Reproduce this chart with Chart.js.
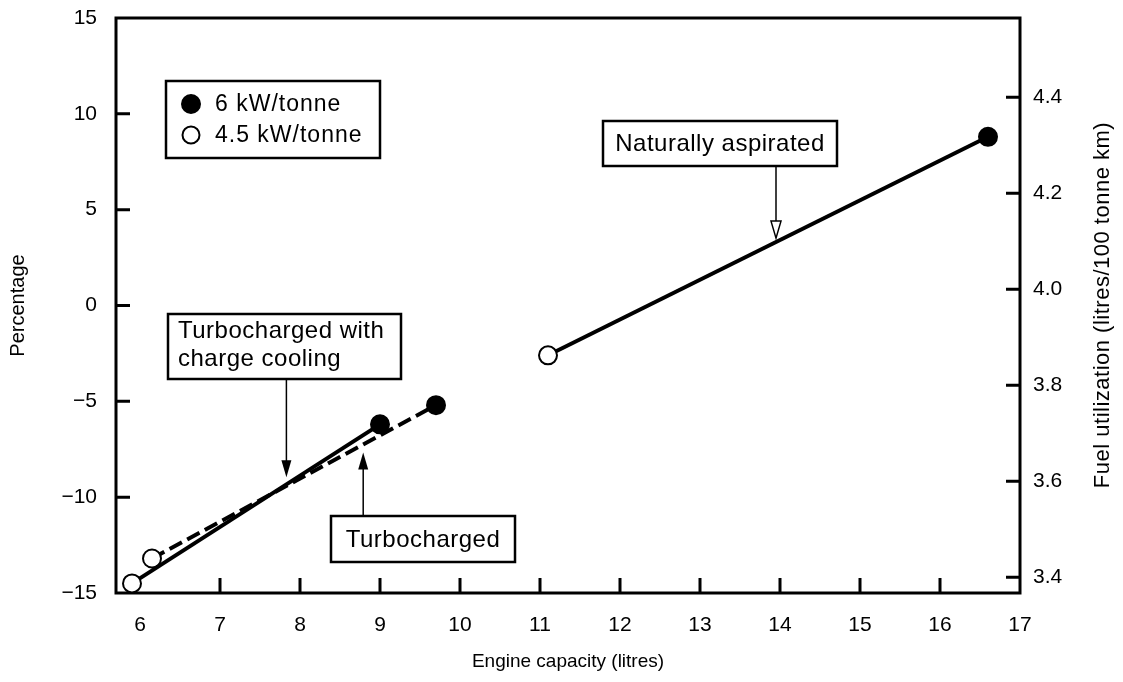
<!DOCTYPE html>
<html>
<head>
<meta charset="utf-8">
<script src="https://cdn.jsdelivr.net/npm/chart.js@4"></script>
<style>
  html, body { margin: 0; padding: 0; background: #fff; }
  #wrap { width: 1123px; height: 682px; }
</style>
</head>
<body>
<div id="wrap"><canvas id="chart" width="1123" height="682"></canvas></div>
<script>
// engine capacity (litres) against percentage change, one pair per engine type
const cooledCapacity = [5.9, 9.0];
const cooledPct = [-14.5, -6.2];
const turboCapacity = [6.15, 9.7];
const turboPct = [-13.2, -5.2];
const naturalCapacity = [11.1, 16.6];
const naturalPct = [-2.6, 8.8];

// power-to-weight class of each point (kW/tonne)
const cooledPower = [4.5, 6];
const turboPower = [4.5, 6];
const naturalPower = [4.5, 6];

// axis ticks
const capacityTicks = [6, 7, 8, 9, 10, 11, 12, 13, 14, 15, 16, 17];
const pctTicks = [-15, -10, -5, 0, 5, 10, 15];
const fuelTicks = [3.4, 3.6, 3.8, 4.0, 4.2, 4.4];
const fuelRange = [3.367, 4.565];

const FONT = '"Liberation Sans", Arial, Helvetica, sans-serif';

function toPoints(xs, ys) {
    return xs.map((x, i) => ({ x: x, y: ys[i] }));
}

function makeSeries(label, xs, ys, power, dash) {
    return {
        label: label,
        data: toPoints(xs, ys),
        borderColor: '#000',
        borderWidth: 4,
        borderDash: dash || [],
        pointRadius: 9,
        pointHoverRadius: 9,
        pointBorderWidth: 2,
        pointBorderColor: '#000',
        pointBackgroundColor: power.map(p => p >= 6 ? '#000' : '#fff'),
        fill: false,
        tension: 0
    };
}

// y value of a straight segment at a given x
function lineValueAt(xs, ys, x) {
    const t = (x - xs[0]) / (xs[1] - xs[0]);
    return ys[0] + t * (ys[1] - ys[0]);
}

function drawArrowHead(ctx, x, y, dir, hollow) {
    // dir: 1 = pointing down, -1 = pointing up
    const len = 17, half = 5;
    ctx.beginPath();
    ctx.moveTo(x, y);
    ctx.lineTo(x - half, y - dir * len);
    ctx.lineTo(x + half, y - dir * len);
    ctx.closePath();
    if (hollow) {
        ctx.fillStyle = '#fff';
        ctx.fill();
        ctx.lineWidth = 1.5;
        ctx.stroke();
    } else {
        ctx.fillStyle = '#000';
        ctx.fill();
    }
}

function drawLabelBox(ctx, x, y, w, h) {
    ctx.fillStyle = '#fff';
    ctx.fillRect(x, y, w, h);
    ctx.strokeStyle = '#000';
    ctx.lineWidth = 2.5;
    ctx.strokeRect(x, y, w, h);
}

function setText(ctx, size, spacing) {
    ctx.font = size + 'px ' + FONT;
    ctx.letterSpacing = spacing + 'px';
    ctx.fillStyle = '#000';
}

const framePlugin = {
    id: 'frame',
    beforeDatasetsDraw(chart) {
        const { ctx, chartArea: a, scales } = chart;
        ctx.save();
        ctx.strokeStyle = '#000';
        ctx.lineWidth = 3;
        ctx.strokeRect(a.left, a.top, a.right - a.left, a.bottom - a.top);

        // inward tick marks
        ctx.beginPath();
        capacityTicks.slice(1, -1).forEach(v => {
            const px = scales.x.getPixelForValue(v);
            ctx.moveTo(px, a.bottom);
            ctx.lineTo(px, a.bottom - 15);
        });
        pctTicks.slice(1, -1).forEach(v => {
            const py = scales.y.getPixelForValue(v);
            ctx.moveTo(a.left, py);
            ctx.lineTo(a.left + 14, py);
        });
        fuelTicks.forEach(v => {
            const py = scales.y2.getPixelForValue(v);
            ctx.moveTo(a.right, py);
            ctx.lineTo(a.right - 14, py);
        });
        ctx.stroke();
        ctx.restore();
    },
    afterDraw(chart) {
        const { ctx, scales } = chart;
        const xs = scales.x, ys = scales.y;
        ctx.save();
        ctx.strokeStyle = '#000';
        ctx.textBaseline = 'middle';

        // legend
        drawLabelBox(ctx, 166, 81, 214, 77);
        ctx.lineWidth = 2;
        ctx.beginPath();
        ctx.arc(191, 104, 9, 0, Math.PI * 2);
        ctx.fillStyle = '#000';
        ctx.fill();
        ctx.stroke();
        ctx.beginPath();
        ctx.arc(191, 135, 8.5, 0, Math.PI * 2);
        ctx.fillStyle = '#fff';
        ctx.fill();
        ctx.stroke();
        setText(ctx, 23, 1);
        ctx.textAlign = 'left';
        ctx.fillText('6 kW/tonne', 215, 105);
        ctx.fillText('4.5 kW/tonne', 215, 136);

        // naturally aspirated
        drawLabelBox(ctx, 603, 121, 234, 45);
        setText(ctx, 24, 0.5);
        ctx.textAlign = 'center';
        ctx.fillText('Naturally aspirated', 720, 144);
        let ax = 13.95;
        let px = xs.getPixelForValue(ax);
        let tip = ys.getPixelForValue(lineValueAt(naturalCapacity, naturalPct, ax)) - 4;
        ctx.lineWidth = 1.5;
        ctx.beginPath();
        ctx.moveTo(px, 166);
        ctx.lineTo(px, tip - 16);
        ctx.stroke();
        drawArrowHead(ctx, px, tip, 1, true);

        // turbocharged with charge cooling
        drawLabelBox(ctx, 168, 314, 233, 65);
        setText(ctx, 24, 0.5);
        ctx.textAlign = 'left';
        ctx.fillText('Turbocharged with', 178, 331);
        ctx.fillText('charge cooling', 178, 359);
        ax = 7.83;
        px = xs.getPixelForValue(ax);
        tip = ys.getPixelForValue(lineValueAt(cooledCapacity, cooledPct, ax)) - 7;
        ctx.lineWidth = 1.5;
        ctx.beginPath();
        ctx.moveTo(px, 379);
        ctx.lineTo(px, tip - 10);
        ctx.stroke();
        drawArrowHead(ctx, px, tip, 1, false);

        // turbocharged
        drawLabelBox(ctx, 331, 516, 184, 46);
        setText(ctx, 24, 0.5);
        ctx.textAlign = 'center';
        ctx.fillText('Turbocharged', 423, 540);
        ax = 8.79;
        px = xs.getPixelForValue(ax);
        tip = ys.getPixelForValue(lineValueAt(turboCapacity, turboPct, ax)) + 8;
        ctx.lineWidth = 1.5;
        ctx.beginPath();
        ctx.moveTo(px, 516);
        ctx.lineTo(px, tip + 10);
        ctx.stroke();
        drawArrowHead(ctx, px, tip, -1, false);

        // right axis title, reading upwards
        ctx.translate(1103, 305);
        ctx.rotate(-Math.PI / 2);
        setText(ctx, 22, 0.5);
        ctx.textAlign = 'center';
        ctx.fillText('Fuel utilization (litres/100 tonne km)', 0, 0);
        ctx.restore();
    }
};

const ticksFrom = list => scale => { scale.ticks = list.map(v => ({ value: v })); };
const noGrid = { display: false, drawTicks: false, tickLength: 0 };
// fixed box sizes so the plot area lands where it should; no extra room for edge labels
const fixSize = (prop, size) => scale => {
    scale[prop] = size;
    scale.paddingTop = 0;
    scale.paddingBottom = 0;
    scale.paddingLeft = 0;
    scale.paddingRight = 0;
};

new Chart(document.getElementById('chart'), {
    type: 'line',
    data: {
        datasets: [
            makeSeries('Turbocharged with charge cooling', cooledCapacity, cooledPct, cooledPower),
            makeSeries('Turbocharged', turboCapacity, turboPct, turboPower, [14, 6]),
            makeSeries('Naturally aspirated', naturalCapacity, naturalPct, naturalPower)
        ]
    },
    options: {
        responsive: false,
        animation: false,
        devicePixelRatio: 1,
        layout: { padding: { top: 18, left: 0, right: 0, bottom: 0 } },
        plugins: {
            legend: { display: false },
            tooltip: { enabled: false }
        },
        scales: {
            x: {
                type: 'linear',
                min: 5.7,
                max: 17,
                afterBuildTicks: ticksFrom(capacityTicks),
                afterFit: fixSize('height', 89),
                grid: noGrid,
                border: { display: false },
                ticks: { color: '#000', font: { family: FONT, size: 21 }, padding: 20, maxRotation: 0, autoSkip: false },
                title: { display: true, text: 'Engine capacity (litres)', color: '#000', font: { family: FONT, size: 19 }, padding: { top: 0, bottom: 9 } }
            },
            y: {
                position: 'left',
                min: -15,
                max: 15,
                afterBuildTicks: ticksFrom(pctTicks),
                afterFit: fixSize('width', 116),
                grid: noGrid,
                border: { display: false },
                ticks: {
                    color: '#000',
                    font: { family: FONT, size: 21 },
                    padding: 19,
                    callback: v => String(v).replace('-', '\u2212')
                },
                title: { display: true, text: 'Percentage', color: '#000', font: { family: FONT, size: 20 }, padding: { top: 6, bottom: 0 } }
            },
            y2: {
                position: 'right',
                display: true,
                min: fuelRange[0],
                max: fuelRange[1],
                afterBuildTicks: ticksFrom(fuelTicks),
                afterFit: fixSize('width', 103),
                grid: noGrid,
                border: { display: false },
                ticks: { color: '#000', font: { family: FONT, size: 21 }, padding: 13, callback: v => v.toFixed(1) }
            }
        }
    },
    plugins: [framePlugin]
});
</script>
</body>
</html>
